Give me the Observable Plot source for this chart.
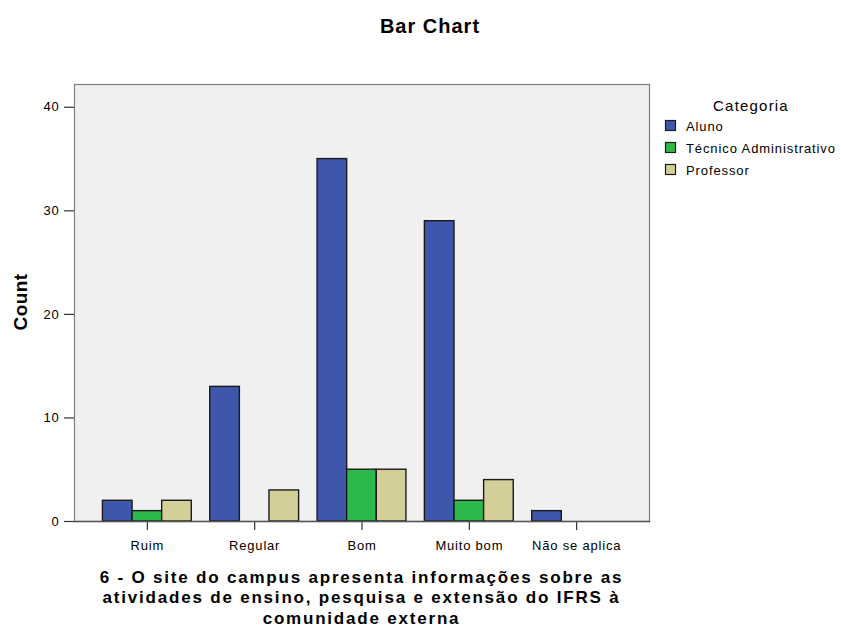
<!DOCTYPE html>
<html>
<head>
<meta charset="utf-8">
<script src="https://cdn.jsdelivr.net/npm/d3@7"></script>
<script src="https://cdn.jsdelivr.net/npm/@observablehq/plot@0.6"></script>
<style>
  html, body { margin: 0; padding: 0; background: #fff; }
  #wrap { position: relative; width: 841px; height: 630px; }
  #wrap svg { position: absolute; left: 0; top: 0; }
</style>
</head>
<body>
<div id="wrap"></div>
<script>
const categories = ["Ruim", "Regular", "Bom", "Muito bom", "Não se aplica"];
const seriesNames = ["Aluno", "Técnico Administrativo", "Professor"];
const colors = ["#3e57ab", "#2db84a", "#d4cf98"];
const aluno = [2, 13, 35, 29, 1];
const tecnico = [1, 0, 5, 2, 0];
const professor = [2, 3, 5, 4, 0];
const yTicks = [0, 10, 20, 30, 40];
const titleText = "Bar Chart";
const xLabel = ["6 - O site do campus apresenta informações sobre as", "atividades de ensino, pesquisa e extensão do IFRS à", "comunidade externa"];
const yLabel = "Count";
const legendTitle = "Categoria";

const seriesValues = [aluno, tecnico, professor];
const data = [];
seriesNames.forEach((s, i) => categories.forEach((c, j) => {
  if (seriesValues[i][j] > 0) data.push({cat: c, series: s, value: seriesValues[i][j]});
}));

const FONT = "Liberation Sans, Arial, sans-serif";
const M = {left: 74, right: 192, top: 84, bottom: 109};
function build(shift, shiftR) {
  return Plot.plot({
    width: 841, height: 630,
    marginLeft: M.left, marginRight: M.right, marginTop: M.top, marginBottom: M.bottom,
    style: {fontFamily: FONT, fontSize: "13px", background: "transparent", color: "#000", letterSpacing: "0.8px"},
    fx: {domain: categories, paddingInner: 0.172, paddingOuter: 0.265, label: null, round: false},
    x: {domain: seriesNames, padding: 0, axis: null, round: false},
    y: {domain: [0, 42.2], label: null},
    color: {domain: seriesNames, range: colors},
    marks: [
      Plot.frame({facet: "super", fill: "#f0f0f0", stroke: "#808080", strokeWidth: 1.2, insetLeft: -shift, insetRight: -shiftR}),
      Plot.axisFx({anchor: "bottom", tickSize: 9, tickPadding: 10.5, label: null, fontSize: 13, stroke: "#333", strokeWidth: 1.2}),
      Plot.axisY({ticks: yTicks, tickSize: 10, tickPadding: 5, label: null, fontSize: 13, stroke: "#333", strokeWidth: 1.2, dx: -shift}),
      Plot.barY(data, {fx: "cat", x: "series", y: "value", fill: "series", stroke: "#1a1a1a", strokeWidth: 1.4}),
      Plot.frame({facet: "super", anchor: "bottom", stroke: "#555", strokeWidth: 1.4, insetLeft: -shift, insetRight: -shiftR})
    ]
  });
}
const probe = build(0, 0);
const fxs = probe.scale("fx");
const shift = fxs.apply(categories[0]) - M.left;
const shiftR = (841 - M.right) - (fxs.apply(categories[categories.length - 1]) + fxs.bandwidth);
const plot = build(shift, shiftR);

const wrap = document.getElementById("wrap");
wrap.appendChild(plot);

// text overlay: title, axis titles, legend
const svg = d3.select(wrap).append("svg").attr("width", 841).attr("height", 630)
  .style("font-family", FONT).style("pointer-events", "none");

svg.append("text").attr("x", 430).attr("y", 32.7).attr("text-anchor", "middle")
  .attr("font-size", 20).attr("font-weight", "bold").style("letter-spacing", "1px").text(titleText);

const cx = (M.left + 841 - M.right) / 2;
xLabel.forEach((line, i) => {
  svg.append("text").attr("x", cx).attr("y", 582.7 + i * 20.7).attr("text-anchor", "middle")
    .attr("font-size", 17).attr("font-weight", "bold").style("letter-spacing", "1.8px").text(line);
});

svg.append("text").attr("transform", "translate(27,302) rotate(-90)").attr("text-anchor", "middle")
  .attr("font-size", 19).attr("font-weight", "bold").style("letter-spacing", "0.4px").text(yLabel);

const lg = svg.append("g");
lg.append("text").attr("x", 751).attr("y", 111).attr("text-anchor", "middle")
  .attr("font-size", 15).style("letter-spacing", "1.2px").text(legendTitle);
seriesNames.forEach((s, i) => {
  const y = 126 + i * 22;
  lg.append("rect").attr("x", 665.5).attr("y", y - 5.5).attr("width", 10).attr("height", 10)
    .attr("fill", colors[i]).attr("stroke", "#1c1c1c").attr("stroke-width", 1.2);
  lg.append("text").attr("x", 686).attr("y", y + 4.5).attr("font-size", 13)
    .style("letter-spacing", "0.9px").text(s);
});
</script>
</body>
</html>
